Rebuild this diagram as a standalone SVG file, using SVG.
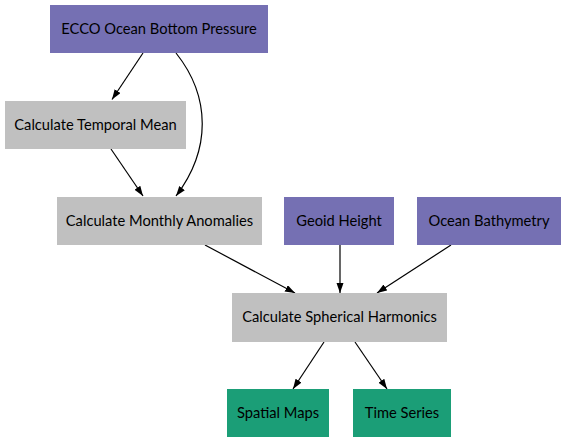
<svg xmlns="http://www.w3.org/2000/svg" width="565" height="443" viewBox="0 0 565 443">
<defs>
<style>
.src rect{fill:#7570b3}
.proc rect{fill:#c0c0c0}
.out rect{fill:#1b9e77}
text{font-family:Lato,"Liberation Sans",sans-serif;font-size:14.7px;fill:#000;text-anchor:middle;dominant-baseline:central}
#edges path{fill:none;stroke:#000;stroke-width:1.2;marker-end:url(#ah)}
</style>
<marker id="ah" markerUnits="userSpaceOnUse" markerWidth="11" markerHeight="8" refX="10" refY="3.5" orient="auto"><path d="M0,0 L10,3.5 L0,7 z" fill="#000"/></marker>
</defs>
<rect width="565" height="443" fill="#fff"/>
<g id="edges">
<path d="M143,53 L112,99.5"/>
<path d="M176,53 C211,97 211,150 176,196"/>
<path d="M111,149 L143,196"/>
<path d="M205,245 L295,293"/>
<path d="M340,245 L340,293"/>
<path d="M451,245 L377,293"/>
<path d="M324,342 L293,389"/>
<path d="M355,342 L387,389"/>
</g>
<g id="ecco" class="src"><rect x="50" y="5" width="218" height="48"/><text x="159" y="28">ECCO Ocean Bottom Pressure</text></g>
<g id="temporal" class="proc"><rect x="5" y="101" width="181" height="48"/><text x="95.5" y="124">Calculate Temporal Mean</text></g>
<g id="anomalies" class="proc"><rect x="57" y="197" width="205" height="48"/><text x="159.5" y="220">Calculate Monthly Anomalies</text></g>
<g id="geoid" class="src"><rect x="284" y="197" width="110" height="48"/><text x="339" y="220">Geoid Height</text></g>
<g id="bathy" class="src"><rect x="417" y="197" width="144" height="48"/><text x="489" y="220">Ocean Bathymetry</text></g>
<g id="harmonics" class="proc"><rect x="232" y="293" width="215" height="49"/><text x="339.5" y="316">Calculate Spherical Harmonics</text></g>
<g id="maps" class="out"><rect x="227" y="389" width="102" height="48"/><text x="278" y="412">Spatial Maps</text></g>
<g id="series" class="out"><rect x="353" y="389" width="98" height="48"/><text x="402" y="412">Time Series</text></g>
</svg>
